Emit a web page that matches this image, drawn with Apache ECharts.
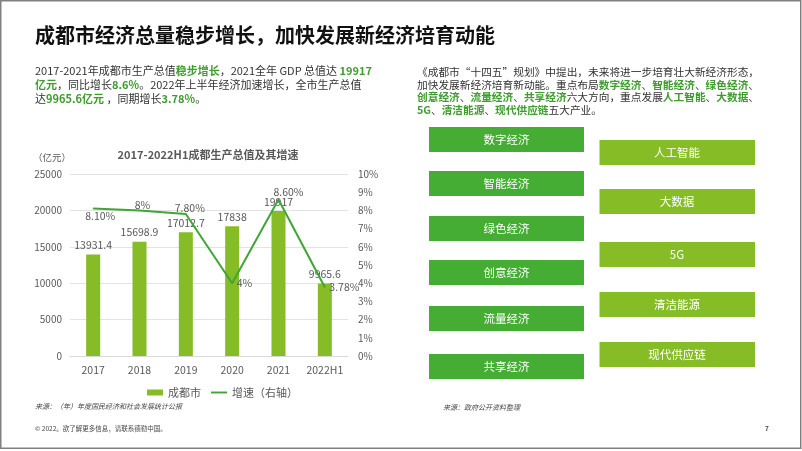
<!DOCTYPE html>
<html><head><meta charset="utf-8">
<script src="https://cdn.jsdelivr.net/npm/echarts@6/dist/echarts.min.js"></script>
<style>html,body{margin:0;padding:0;background:#fff}#c{width:802px;height:451px}</style>
</head><body><div id="c"></div><script>
// ---- data ----
const years = ['2017', '2018', '2019', '2020', '2021', '2022H1'];
const gdp = [13931.4, 15698.9, 17012.7, 17838, 19917, 9965.6];
const growth = [8.1, 8, 7.8, 4, 8.6, 3.78];
const growthLabels = ['8.10%', '8%', '7.80%', '4%', '8.60%', '3.78%'];
const economyTypes = ['数字经济', '智能经济', '绿色经济', '创意经济', '流量经济', '共享经济'];
const industries = ['人工智能', '大数据', '5G', '清洁能源', '现代供应链'];
const seriesNames = ['成都市', '增速（右轴）'];
const chartTitle = '2017-2022H1成都生产总值及其增速';
const slideTitle = '成都市经济总量稳步增长，加快发展新经济培育动能';

// ---- layout / style ----
const F = '"Noto Sans CJK SC", "Noto Sans", sans-serif';
const DARK = '#333333';
const GREEN_TXT = '#3f9c2f';
const BOX_DARK = '#45ad34';
const BOX_LIGHT = '#86bc25';
const LINE_C = '#3fa535';
const AX = '#595959';
const growthLabelPos = ['bottom', 'top', 'top', 'right', 'top', 'right'];
const growthLabelOffset = [[7, -2], [3, 4], [4, 4], [0, 0], [10, 2], [0, 0]];
const leftBoxTops = [127, 171, 216, 260, 306, 354];
const rightBoxTops = [140, 189, 242, 292, 342];

const chart = echarts.init(document.getElementById('c'), null, {renderer: 'canvas'});

function txt(x, y, text, fontSize, opts) {
  opts = opts || {};
  return {
    type: 'text', silent: true,
    style: Object.assign({
      x: x, y: y, text: text,
      fontFamily: F, fontSize: fontSize,
      fontWeight: opts.weight || 'normal',
      fontStyle: opts.style || 'normal',
      fill: opts.fill || DARK,
      align: opts.align || 'left', textAlign: opts.align || 'left',
      verticalAlign: 'middle', textVerticalAlign: 'middle'
    }, opts.rich ? {rich: opts.rich} : {})
  };
}

const richL = {
  n: {fontFamily: F, fontSize: 11, fill: DARK, color: DARK},
  g: {fontFamily: F, fontSize: 11, fill: GREEN_TXT, color: GREEN_TXT, fontWeight: 'bold'}
};
const richR = {
  n: {fontFamily: F, fontSize: 10.7, fill: DARK, color: DARK},
  g: {fontFamily: F, fontSize: 10.7, fill: GREEN_TXT, color: GREEN_TXT, fontWeight: 'bold'}
};

const graphics = [];
// frame
graphics.push({type: 'rect', silent: true, shape: {x: 0.75, y: 0.75, width: 800, height: 447.5},
  style: {fill: 'none', stroke: '#808080', lineWidth: 1.5}});
// title
graphics.push(txt(35, 35, slideTitle, 20, {weight: 'bold', fill: '#111'}));
// left paragraph
graphics.push(txt(35, 71, '{n|2017-2021年成都市生产总值}{g|稳步增长}{n|，2021全年 GDP 总值达 }{g|19917}', 11, {rich: richL}));
graphics.push(txt(35, 85, '{g|亿元}{n|，同比增长}{g|8.6%}{n|。2022年上半年经济加速增长，全市生产总值}', 11, {rich: richL}));
graphics.push(txt(35, 99, '{n|达}{g|9965.6亿元 }{n|，同期增长}{g|3.78%}{n|。}', 11, {rich: richL}));
// right paragraph
graphics.push(txt(417, 72, '{n|《成都市“十四五”规划》中提出，未来将进一步培育壮大新经济形态，}', 10.7, {rich: richR}));
graphics.push(txt(417, 85, '{n|加快发展新经济培育新动能。重点布局}{g|数字经济}{n|、}{g|智能经济}{n|、}{g|绿色经济}{n|、}', 10.7, {rich: richR}));
graphics.push(txt(417, 97, '{g|创意经济}{n|、}{g|流量经济}{n|、}{g|共享经济}{n|六大方向，重点发展}{g|人工智能}{n|、}{g|大数据}{n|、}', 10.7, {rich: richR}));
graphics.push(txt(417, 110, '{g|5G}{n|、}{g|清洁能源}{n|、}{g|现代供应链}{n|五大产业。}', 10.7, {rich: richR}));
// chart title and unit
graphics.push(txt(208, 155, chartTitle, 11, {weight: 'bold', fill: AX, align: 'center'}));
graphics.push(txt(33, 157, '（亿元）', 9.5, {fill: AX}));
// boxes
economyTypes.forEach(function (name, i) {
  graphics.push({type: 'rect', silent: true, shape: {x: 429, y: leftBoxTops[i], width: 155, height: 25},
    style: {fill: BOX_DARK}});
  graphics.push(txt(506.5, leftBoxTops[i] + 13, name, 11.5, {fill: '#fff', align: 'center'}));
});
industries.forEach(function (name, i) {
  graphics.push({type: 'rect', silent: true, shape: {x: 599.5, y: rightBoxTops[i], width: 155.5, height: 25},
    style: {fill: BOX_LIGHT}});
  graphics.push(txt(677, rightBoxTops[i] + 13, name, 11.5, {fill: '#fff', align: 'center'}));
});
// sources and footer
graphics.push(txt(35, 406, '来源：（年）年度国民经济和社会发展统计公报', 7, {style: 'italic', fill: '#444'}));
graphics.push(txt(35, 429, '© 2022。欲了解更多信息，请联系德勤中国。', 6.5, {fill: '#444'}));
graphics.push(txt(443, 407, '来源：政府公开资料整理', 7, {style: 'italic', fill: '#444'}));
graphics.push(txt(765, 429, '7', 6.5, {weight: 'bold', fill: '#444'}));

const option = {
  backgroundColor: '#ffffff',
  animation: false,
  textStyle: {fontFamily: F},
  grid: {left: 70, right: 454, top: 174, bottom: 95},
  legend: {
    left: 142, top: 382,
    itemWidth: 16, itemHeight: 6, itemGap: 10,
    textStyle: {fontFamily: F, fontSize: 11, color: AX},
    data: [
      {name: seriesNames[0], icon: 'rect'},
      {name: seriesNames[1], icon: 'path://M0,0H20V2.4H0Z'}
    ]
  },
  xAxis: {
    type: 'category', data: years,
    axisLine: {show: true, lineStyle: {color: '#d9d9d9'}},
    axisTick: {show: false},
    axisLabel: {fontFamily: F, fontSize: 10.5, color: AX, margin: 9, interval: 0}
  },
  yAxis: [
    {
      type: 'value', min: 0, max: 25000, interval: 5000,
      axisLine: {show: false}, axisTick: {show: false},
      axisLabel: {fontFamily: F, fontSize: 10, color: AX, margin: 8,
        formatter: function (v) { return String(v); }},
      splitLine: {lineStyle: {color: '#e3e3e3'}}
    },
    {
      type: 'value', min: 0, max: 10, interval: 1,
      axisLine: {show: false}, axisTick: {show: false},
      axisLabel: {fontFamily: F, fontSize: 10, color: AX, margin: 10, formatter: '{value}%'},
      splitLine: {show: false}
    }
  ],
  series: [
    {
      name: seriesNames[0], type: 'bar', yAxisIndex: 0,
      data: gdp, barWidth: 14,
      itemStyle: {color: BOX_LIGHT},
      label: {show: true, position: 'top', distance: 4, fontFamily: F, fontSize: 10.5, color: AX}
    },
    {
      name: seriesNames[1], type: 'line', yAxisIndex: 1,
      data: growth.map(function (v, i) {
        return {value: v, label: {position: growthLabelPos[i], offset: growthLabelOffset[i]}};
      }),
      symbol: 'circle', symbolSize: 1, showSymbol: true,
      itemStyle: {color: LINE_C},
      lineStyle: {color: LINE_C, width: 2},
      label: {
        show: true, fontFamily: F, fontSize: 10.5, color: AX, distance: 4,
        formatter: function (p) { return growthLabels[p.dataIndex]; }
      },
      z: 5
    }
  ],
  graphic: graphics
};
chart.setOption(option);
</script></body></html>
